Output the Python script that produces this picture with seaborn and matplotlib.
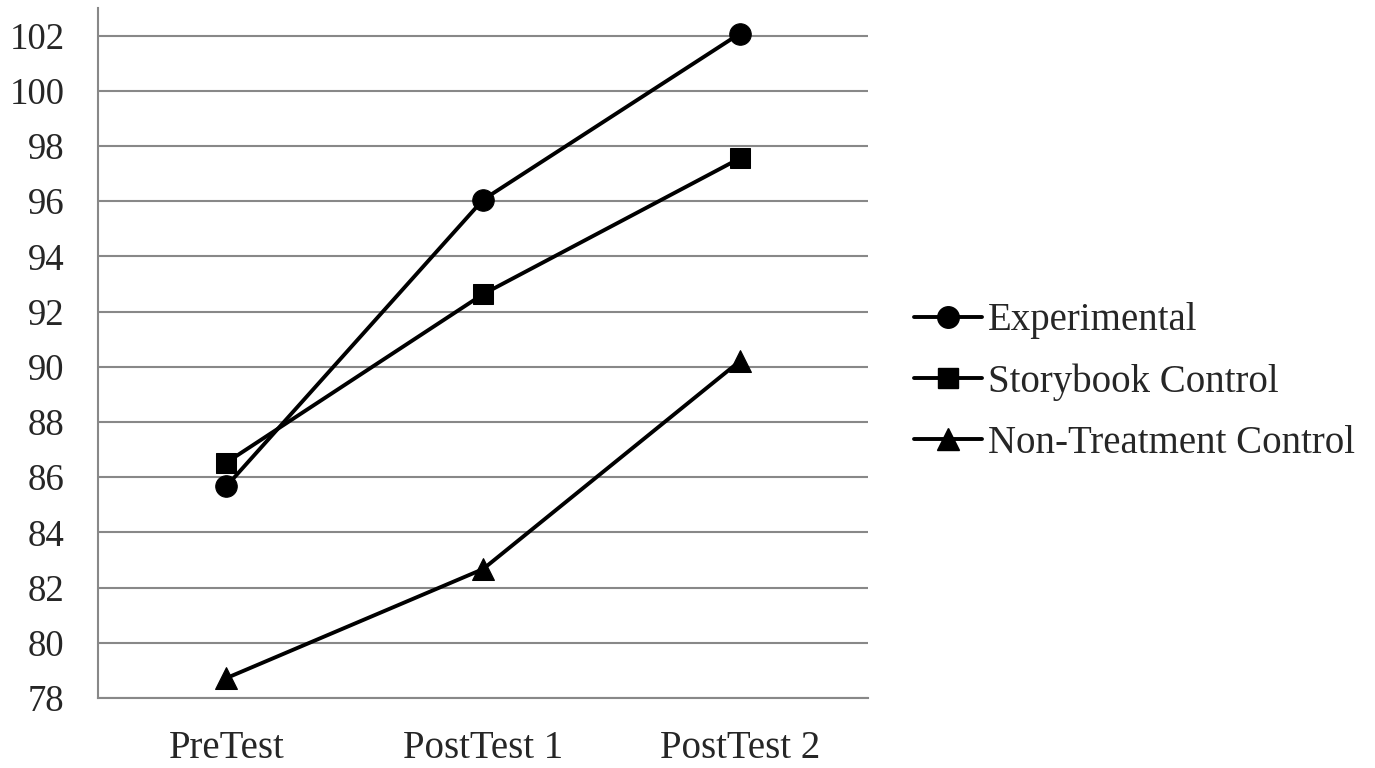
import matplotlib
matplotlib.use("Agg")
import matplotlib.pyplot as plt
import seaborn as sns
import pandas as pd
from matplotlib.ticker import FixedLocator

categories = ["PreTest", "PostTest 1", "PostTest 2"]
experimental = [85.67, 96.05, 102.07]
storybook = [86.53, 92.63, 97.55]
non_treatment = [78.72, 82.67, 90.2]
series_names = ["Experimental", "Storybook Control", "Non-Treatment Control"]
y_ticks = list(range(78, 103, 2))

rows = []
for name, vals in zip(series_names, [experimental, storybook, non_treatment]):
    for i, (c, v) in enumerate(zip(categories, vals)):
        rows.append({"x": i, "cat": c, "value": v, "group": name})
df = pd.DataFrame(rows)

sns.set_style("white")
plt.rcParams["font.family"] = ["Liberation Serif", "DejaVu Serif"]

fig = plt.figure(figsize=(13.75, 7.68), dpi=100)
ax = fig.add_axes([98/1375, 1-698/768, (868-98)/1375, (698-8)/768])

markers = {"Experimental": "o", "Storybook Control": "s", "Non-Treatment Control": "^"}
msizes = {"Experimental": 15.5, "Storybook Control": 14.5, "Non-Treatment Control": 16}
for name in series_names:
    sub = df[df["group"] == name]
    sns.lineplot(data=sub, x="x", y="value", ax=ax, color="black", linewidth=2.8,
                 marker=markers[name], markersize=msizes[name], markeredgecolor="black",
                 markerfacecolor="black", label=name, legend=False, zorder=3)

ax.set_xlim(-0.5, 2.5)
ax.set_ylim(78, 103)
ax.set_yticks(y_ticks)
ax.set_xticks(range(len(categories)))
ax.set_xticklabels(categories)
ax.xaxis.set_minor_locator(FixedLocator([-0.5, 0.5, 1.5, 2.5]))
ax.tick_params(axis="x", which="major", length=0, pad=23, labelsize=28)
ax.tick_params(axis="x", which="minor", length=10, width=1.5, color="#888888", direction="out")
ax.tick_params(axis="y", which="major", length=10, width=1.5, color="#888888", direction="out",
               labelsize=26.5, pad=14)
ax.set_xlabel("")
ax.set_ylabel("")
ax.yaxis.grid(True, color="#888888", linewidth=1.5)
ax.set_axisbelow(True)
for s in ["top", "right"]:
    ax.spines[s].set_visible(False)
for s in ["left", "bottom"]:
    ax.spines[s].set_color("#888888")
    ax.spines[s].set_linewidth(1.5)

handles = [plt.Line2D([], [], color="black", linewidth=2.8, marker=markers[n],
                      markersize=msizes[n]) for n in series_names]
fig.legend(handles, series_names, loc="center left", bbox_to_anchor=(914/1375, 1-382/768),
           frameon=False, fontsize=28, handlelength=1.75, handletextpad=0.15,
           labelspacing=0.62, borderaxespad=0, borderpad=0)

fig.savefig("out.png", dpi=100, facecolor="white")
